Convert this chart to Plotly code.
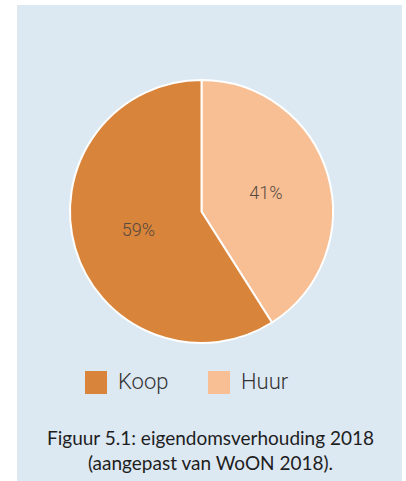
import plotly.graph_objects as go

labels = ["Koop", "Huur"]
values = [59, 41]
colors = ["#d9843b", "#f8bf95"]
caption_lines = ["Figuur 5.1: eigendomsverhouding 2018", "(aangepast van WoON 2018)."]

W, H = 406, 481

def px(x):
    return x / W

def py(y):
    return 1 - y / H

fig = go.Figure()
fig.add_trace(go.Pie(
    labels=labels[::-1],
    values=values[::-1],
    sort=False,
    direction="clockwise",
    rotation=0,
    marker=dict(colors=colors[::-1], line=dict(color="white", width=2)),
    textinfo="percent",
    texttemplate="%{percent:.0%}",
    textposition="inside",
    insidetextorientation="horizontal",
    textfont=dict(family="Roboto", size=18, color="#574a3e", weight=300),
    domain=dict(x=[px(70), px(333)], y=[py(343), py(80)]),
    showlegend=False,
    hoverinfo="label+percent",
))

shapes = [
    dict(type="rect", xref="paper", yref="paper",
         x0=px(17), x1=px(402), y0=0, y1=py(5),
         fillcolor="#dce8f2", line=dict(width=0), layer="below"),
]
annotations = []

legend_x = [85, 208]
for i, lab in enumerate(labels):
    x0 = legend_x[i]
    shapes.append(dict(type="rect", xref="paper", yref="paper",
                       x0=px(x0), x1=px(x0 + 22), y0=py(394), y1=py(371),
                       fillcolor=colors[i], line=dict(width=0)))
    annotations.append(dict(text=lab, xref="paper", yref="paper",
                            x=px(x0 + 31), y=py(381), xanchor="left", yanchor="middle",
                            showarrow=False,
                            font=dict(family="Roboto", size=22, color="#333333", weight=300)))

annotations.append(dict(text=caption_lines[0] + "<br>" + caption_lines[1],
                        xref="paper", yref="paper", x=px(210), y=py(450),
                        xanchor="center", yanchor="middle", showarrow=False,
                        align="center",
                        font=dict(family="Lato", size=19, color="#1e1e1e")))

fig.update_layout(
    width=W, height=H,
    margin=dict(l=0, r=0, t=0, b=0),
    paper_bgcolor="white",
    plot_bgcolor="white",
    shapes=shapes,
    annotations=annotations,
)

fig.write_html("out.html")
